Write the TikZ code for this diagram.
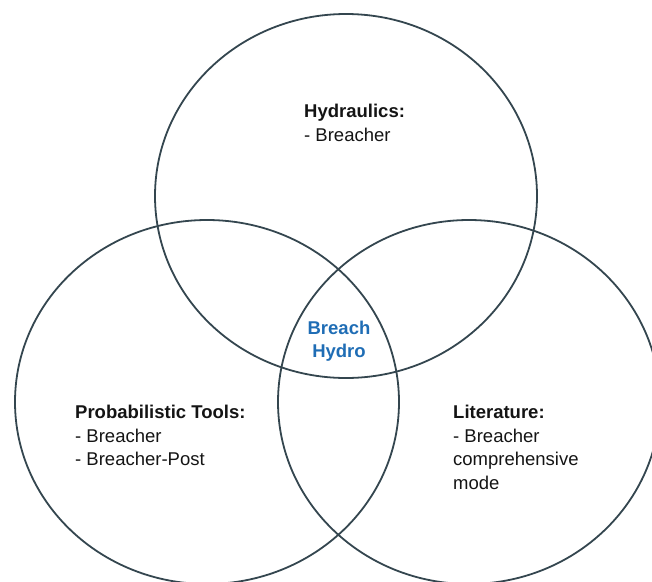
\documentclass[tikz,border=0pt]{standalone}
\usepackage{fontspec}
\setmainfont{Liberation Sans}
\definecolor{ringcol}{HTML}{34464F}
\definecolor{coreblue}{HTML}{1F6DB5}
\definecolor{labelink}{HTML}{141414}
\begin{document}
\begin{tikzpicture}[x=1pt,y=-1pt,
  ring/.style={draw=ringcol,line width=1.8pt},
  txt/.style={anchor=base west,inner sep=0pt,text=labelink,font=\fontsize{18.5}{21}\selectfont},
  head/.style={txt,font=\fontsize{18.5}{21}\selectfont\bfseries},
  core/.style={anchor=base,inner sep=0pt,text=coreblue,font=\fontsize{18.5}{21}\selectfont\bfseries}]
  \useasboundingbox (0,0) rectangle (652,581);
  \clip (0,0) rectangle (652,581);
  % the three overlapping sets
  \draw[ring] (346,196) ellipse [x radius=191, y radius=182];
  \draw[ring] (207,402) ellipse [x radius=192, y radius=182];
  \draw[ring] (469,402) ellipse [x radius=191, y radius=182];
  % top set
  \node[head] (hydhead) at (304,117) {Hydraulics:};
  \node[txt]  (hydone)  at (304,141) {- Breacher};
  % left set
  \node[head] (probhead) at (75,418) {Probabilistic Tools:};
  \node[txt]  (probone)  at (75,442) {- Breacher};
  \node[txt]  (probtwo)  at (75,465) {- Breacher-Post};
  % right set
  \node[head] (lithead) at (453,418) {Literature:};
  \node[txt]  (litone)  at (453,442) {- Breacher};
  \node[txt]  (littwo)  at (453,465) {comprehensive};
  \node[txt]  (litthree) at (453,489) {mode};
  % common core
  \node[core] (coreone) at (339,334) {Breach};
  \node[core] (coretwo) at (339,357) {Hydro};
\end{tikzpicture}
\end{document}
